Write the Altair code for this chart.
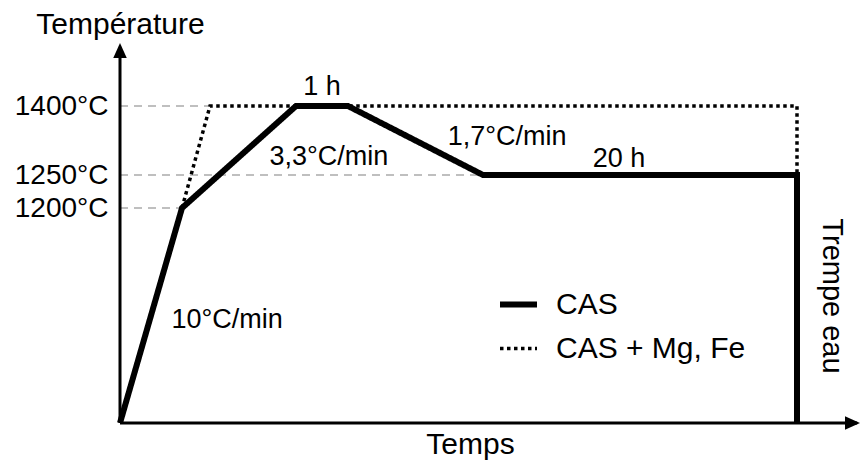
import altair as alt
import pandas as pd

FONT = "Liberation Sans"

# ---- data read from the schematic (time in min, temperature in °C) ----
series_names = ["CAS", "CAS + Mg, Fe"]
cas_time = [0, 120, 180, 240, 328, 1528, 1528]
cas_temp = [0, 1200, 1400, 1400, 1250, 1250, 0]
mgfe_time = [120, 140, 1528, 1528]
mgfe_temp = [1200, 1400, 1400, 1250]

level_temp = [1200, 1250, 1400]
level_time = [120, 328, 140]

ann_text = ["1 h", "3,3°C/min", "1,7°C/min", "20 h", "10°C/min"]
ann_time = [210, 218, 420, 848, 148]
ann_temp = [1424, 1272, 1315, 1267, 530]

side_text = ["Trempe eau"]
side_time = [1651]
side_temp = [709]

time_breaks = [0, 120, 140, 180, 240, 328, 1528, 1750]
temp_breaks = [0, 1200, 1250, 1400, 1540]

# ---- tables ----
rows = []
for i, (t, T) in enumerate(zip(cas_time, cas_temp)):
    rows.append({"series": series_names[0], "i": i, "time": t, "temp": T})
for i, (t, T) in enumerate(zip(mgfe_time, mgfe_temp)):
    rows.append({"series": series_names[1], "i": i, "time": t, "temp": T})
lines_df = pd.DataFrame(rows)

guides_df = pd.DataFrame({"time": [0] * len(level_temp), "time2": level_time,
                          "temp": level_temp})
ann_df = pd.DataFrame({"label": ann_text, "time": ann_time, "temp": ann_temp})
side_df = pd.DataFrame({"label": side_text, "time": side_time, "temp": side_temp})

t_end = time_breaks[-1]
T_top = temp_breaks[-1]
axes_df = pd.DataFrame({"time": [0, 0], "temp": [0, 0],
                        "time2": [0, t_end - 10], "temp2": [T_top - 32, 0]})
up_df = pd.DataFrame({"time": [0], "temp": [T_top]})
right_df = pd.DataFrame({"time": [t_end], "temp": [0]})

# ---- schematic (piecewise) scales ----
xs = alt.Scale(domain=time_breaks, range=[0, 62, 90, 176, 228, 363, 677, 740],
               nice=False, zero=False)
ys = alt.Scale(domain=temp_breaks, range=[380, 165, 132, 63, 0],
               nice=False, zero=False)

xaxis = alt.Axis(domain=False, ticks=False, labels=False, grid=False,
                 title="Temps", titleFont=FONT, titleFontSize=30,
                 titleFontWeight="normal", titleColor="black",
                 titleX=350, titleY=30, titleAlign="center",
                 titleBaseline="alphabetic", titleAnchor=None)
yaxis = alt.Axis(domain=False, ticks=False, grid=False, values=level_temp,
                 labelExpr="datum.value + '°C'", labelFont=FONT,
                 labelFontSize=28, labelColor="black", labelPadding=12,
                 title="Température", titleFont=FONT, titleFontSize=30,
                 titleFontWeight="normal", titleColor="black", titleAngle=0,
                 titleX=0, titleY=-10, titleAlign="center",
                 titleBaseline="alphabetic")

X = alt.X("time:Q", scale=xs, axis=xaxis)
Y = alt.Y("temp:Q", scale=ys, axis=yaxis)

guides = alt.Chart(guides_df).mark_rule(
    color="#bfbfbf", strokeDash=[8, 6], strokeWidth=2
).encode(x=X, x2="time2:Q", y=Y)

leg = alt.Legend(orient="none", legendX=377, legendY=240, title=None,
                 symbolType="stroke", symbolSize=1369, symbolStrokeColor="black",
                 labelFont=FONT, labelFontSize=30, labelColor="black",
                 labelOffset=16, rowPadding=8, padding=0, labelLimit=0)

lines = alt.Chart(lines_df).mark_line(
    color="black", strokeJoin="miter", strokeCap="butt"
).encode(
    x=X, y=Y, order="i:Q", detail="series:N",
    strokeDash=alt.StrokeDash("series:N", scale=alt.Scale(
        domain=series_names, range=[[1, 0], [3.5, 3.5]]), legend=leg),
    strokeWidth=alt.StrokeWidth("series:N", scale=alt.Scale(
        domain=series_names, range=[6, 3.5]), legend=leg),
)

axes = alt.Chart(axes_df).mark_rule(color="black", strokeWidth=3, strokeCap="butt").encode(
    x=X, y=Y, x2="time2:Q", y2="temp2:Q")

up = alt.Chart(up_df).mark_point(
    shape="M0,0L0.45,1L-0.45,1Z", size=900, filled=True, color="black",
    opacity=1, strokeWidth=0
).encode(x=X, y=Y)
right = alt.Chart(right_df).mark_point(
    shape="M0,0L-1,-0.45L-1,0.45Z", size=900, filled=True, color="black",
    opacity=1, strokeWidth=0
).encode(x=X, y=Y)

ann = alt.Chart(ann_df).mark_text(
    font=FONT, fontSize=27, color="black", align="center", baseline="alphabetic"
).encode(x=X, y=Y, text="label:N")

side = alt.Chart(side_df).mark_text(
    font=FONT, fontSize=29, color="black", align="center", baseline="middle",
    angle=90
).encode(x=X, y=Y, text="label:N")

chart = alt.layer(guides, lines, axes, up, right, ann, side).properties(
    width=740, height=380,
    autosize=alt.AutoSizeParams(type="none"),
    padding={"left": 112, "top": 35, "right": 0, "bottom": 37},
    background="white",
).configure_view(stroke=None)

chart.save("out.html", embed_options={"renderer": "svg", "actions": False})
